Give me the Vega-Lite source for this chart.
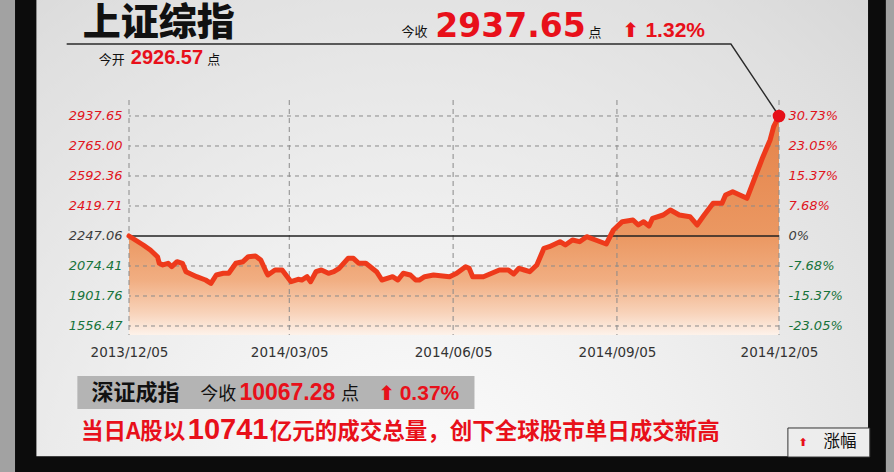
{
  "$schema": "https://vega.github.io/schema/vega-lite/v6.json",
  "width": 650,
  "height": 235,
  "autosize": {"type": "none"},
  "padding": {"left": 129, "top": 100, "right": 115, "bottom": 137},
  "background": "#0c0c0c",
  "config": {"view": {"stroke": null}},
  "resolve": {"axis": {"y": "independent", "x": "independent"}},
  "datasets": {
    "sh": [
      {"date": "2013-12-05", "value": 2247.06},
      {"date": "2013-12-13", "value": 2195.3},
      {"date": "2013-12-17", "value": 2166.5},
      {"date": "2013-12-21", "value": 2127.9},
      {"date": "2013-12-22", "value": 2090.0},
      {"date": "2013-12-24", "value": 2080.2},
      {"date": "2013-12-27", "value": 2090.0},
      {"date": "2013-12-29", "value": 2070.4},
      {"date": "2014-01-01", "value": 2099.2},
      {"date": "2014-01-04", "value": 2090.0},
      {"date": "2014-01-06", "value": 2041.6},
      {"date": "2014-01-12", "value": 2012.8},
      {"date": "2014-01-17", "value": 1993.8},
      {"date": "2014-01-20", "value": 1974.9},
      {"date": "2014-01-23", "value": 2022.6},
      {"date": "2014-01-27", "value": 2032.4},
      {"date": "2014-01-30", "value": 2032.4},
      {"date": "2014-02-03", "value": 2090.0},
      {"date": "2014-02-07", "value": 2099.2},
      {"date": "2014-02-10", "value": 2127.9},
      {"date": "2014-02-14", "value": 2132.0},
      {"date": "2014-02-17", "value": 2108.9},
      {"date": "2014-02-20", "value": 2041.6},
      {"date": "2014-02-21", "value": 2022.6},
      {"date": "2014-02-25", "value": 2051.4},
      {"date": "2014-03-01", "value": 2051.4},
      {"date": "2014-03-06", "value": 1984.1},
      {"date": "2014-03-10", "value": 1997.9},
      {"date": "2014-03-12", "value": 1993.8},
      {"date": "2014-03-15", "value": 2012.8},
      {"date": "2014-03-17", "value": 1984.1},
      {"date": "2014-03-20", "value": 2041.6},
      {"date": "2014-03-23", "value": 2051.4},
      {"date": "2014-03-27", "value": 2032.4},
      {"date": "2014-03-30", "value": 2041.6},
      {"date": "2014-04-02", "value": 2061.2},
      {"date": "2014-04-07", "value": 2118.7},
      {"date": "2014-04-10", "value": 2118.7},
      {"date": "2014-04-13", "value": 2090.0},
      {"date": "2014-04-17", "value": 2090.0},
      {"date": "2014-04-23", "value": 2041.6},
      {"date": "2014-04-26", "value": 1993.8},
      {"date": "2014-04-29", "value": 2003.6},
      {"date": "2014-05-02", "value": 2012.8},
      {"date": "2014-05-05", "value": 1993.8},
      {"date": "2014-05-08", "value": 2032.4},
      {"date": "2014-05-12", "value": 2022.6},
      {"date": "2014-05-15", "value": 1993.8},
      {"date": "2014-05-17", "value": 1993.8},
      {"date": "2014-05-20", "value": 2012.8},
      {"date": "2014-05-25", "value": 2022.6},
      {"date": "2014-06-03", "value": 2012.8},
      {"date": "2014-06-07", "value": 2032.4},
      {"date": "2014-06-12", "value": 2070.4},
      {"date": "2014-06-14", "value": 2061.2},
      {"date": "2014-06-16", "value": 2012.8},
      {"date": "2014-06-22", "value": 2012.8},
      {"date": "2014-07-01", "value": 2051.4},
      {"date": "2014-07-06", "value": 2051.4},
      {"date": "2014-07-09", "value": 2028.4},
      {"date": "2014-07-12", "value": 2061.2},
      {"date": "2014-07-15", "value": 2051.4},
      {"date": "2014-07-18", "value": 2041.6},
      {"date": "2014-07-22", "value": 2080.2},
      {"date": "2014-07-26", "value": 2176.3},
      {"date": "2014-07-29", "value": 2185.5},
      {"date": "2014-08-04", "value": 2214.3},
      {"date": "2014-08-07", "value": 2195.3},
      {"date": "2014-08-11", "value": 2224.0},
      {"date": "2014-08-15", "value": 2214.3},
      {"date": "2014-08-19", "value": 2243.0},
      {"date": "2014-08-24", "value": 2224.0},
      {"date": "2014-08-30", "value": 2201.0},
      {"date": "2014-09-03", "value": 2281.6},
      {"date": "2014-09-08", "value": 2329.4},
      {"date": "2014-09-14", "value": 2339.1},
      {"date": "2014-09-17", "value": 2310.4},
      {"date": "2014-09-20", "value": 2329.4},
      {"date": "2014-09-23", "value": 2304.6},
      {"date": "2014-09-25", "value": 2348.9},
      {"date": "2014-10-01", "value": 2367.9},
      {"date": "2014-10-05", "value": 2396.7},
      {"date": "2014-10-10", "value": 2367.9},
      {"date": "2014-10-16", "value": 2358.1},
      {"date": "2014-10-20", "value": 2310.4},
      {"date": "2014-10-24", "value": 2367.9},
      {"date": "2014-10-29", "value": 2435.2},
      {"date": "2014-11-03", "value": 2435.2},
      {"date": "2014-11-05", "value": 2483.0},
      {"date": "2014-11-09", "value": 2502.0},
      {"date": "2014-11-17", "value": 2464.0},
      {"date": "2014-11-26", "value": 2703.4},
      {"date": "2014-11-30", "value": 2799.5},
      {"date": "2014-12-02", "value": 2876.1},
      {"date": "2014-12-05", "value": 2937.65}
    ],
    "dot": [{"date": "2014-12-05", "value": 2937.65}],
    "conn": [
      {"date": "2013-10-31", "value": 3352.0},
      {"date": "2014-11-08", "value": 3352.0},
      {"date": "2014-12-05", "value": 2937.65}
    ],
    "hgrid": [
      {"value": 1729.12, "kind": "dash"},
      {"value": 1901.76, "kind": "dash"},
      {"value": 2074.41, "kind": "dash"},
      {"value": 2247.06, "kind": "base"},
      {"value": 2419.71, "kind": "dash"},
      {"value": 2592.36, "kind": "dash"},
      {"value": 2765.00, "kind": "dash"},
      {"value": 2937.65, "kind": "dash"}
    ],
    "vgrid": [
      {"date": "2013-12-05"},
      {"date": "2014-03-05"},
      {"date": "2014-06-05"},
      {"date": "2014-09-05"},
      {"date": "2014-12-05"}
    ],
    "frame": [
      {"date": "2013-09-01", "date2": "2013-10-02", "value": 3800, "value2": 700, "part": "side"},
      {"date": "2015-02-03", "date2": "2015-03-01", "value": 3800, "value2": 700, "part": "side"},
      {"date": "2013-10-14", "date2": "2015-01-24", "value": 3700, "value2": 980.0, "part": "panel"},
      {"date": "2013-11-06", "date2": "2014-06-17", "value": 1441.4, "value2": 1251.4, "part": "box"},
      {"date": "2014-12-10", "date2": "2015-01-25", "value": 1142.1, "value2": 975, "part": "legend"}
    ],
    "txt": [
      {"date": "2013-11-09", "value": 3403.8, "label": "上证综指", "style": "title"},
      {"date": "2013-11-18", "value": 3236.9, "label": "今开", "style": "s13"},
      {"date": "2013-12-06", "value": 3236.9, "label": "2926.57", "style": "r20"},
      {"date": "2014-01-18", "value": 3236.9, "label": "点", "style": "s13"},
      {"date": "2014-05-07", "value": 3398.1, "label": "今收", "style": "s13"},
      {"date": "2014-05-26", "value": 3392.3, "label": "2937.65", "style": "r33"},
      {"date": "2014-08-20", "value": 3392.3, "label": "点", "style": "s13"},
      {"date": "2014-09-08", "value": 3392.3, "label": "⬆", "style": "arrow"},
      {"date": "2014-09-21", "value": 3392.3, "label": "1.32%", "style": "r21"},
      {"date": "2013-11-14", "value": 1303.3, "label": "深证成指", "style": "b22"},
      {"date": "2014-01-14", "value": 1303.3, "label": "今收", "style": "s18"},
      {"date": "2014-02-05", "value": 1303.3, "label": "10067.28", "style": "r23"},
      {"date": "2014-04-03", "value": 1303.3, "label": "点", "style": "s18"},
      {"date": "2014-04-24", "value": 1303.3, "label": "⬆", "style": "arrow"},
      {"date": "2014-05-06", "value": 1303.3, "label": "0.37%", "style": "r21"},
      {"date": "2013-11-08", "value": 1078.8, "label": "当日A股以", "style": "cn"},
      {"date": "2014-01-07", "value": 1078.8, "label": "10741", "style": "r29"},
      {"date": "2014-02-22", "value": 1078.8, "label": "亿元的成交总量，创下全球股市单日成交新高", "style": "cn"},
      {"date": "2014-12-16", "value": 1038.5, "label": "⬆", "style": "arrowsm"},
      {"date": "2014-12-30", "value": 1032.7, "label": "涨幅", "style": "s16"}
    ]
  },
  "layer": [
    {
      "data": {"name": "frame"},
      "transform": [{"filter": "datum.part == 'side'"}],
      "mark": {"type": "rect", "color": "#a2a2a2"},
      "encoding": {
        "x": {"field": "date", "type": "temporal", "scale": {"type": "utc", "domain": [{"year": 2013, "month": 12, "date": 5, "utc": true}, {"year": 2014, "month": 12, "date": 5, "utc": true}]}, "axis": null},
        "x2": {"field": "date2"},
        "y": {"field": "value", "type": "quantitative", "scale": {"domain": [1677.3, 3029.7], "nice": false, "zero": false}, "axis": null},
        "y2": {"field": "value2"}
      }
    },
    {
      "data": {"name": "frame"},
      "transform": [{"filter": "datum.part == 'panel'"}],
      "mark": {"type": "rect", "color": {"gradient": "radial", "x1": 0.45, "y1": 0.85, "r1": 0, "x2": 0.45, "y2": 0.85, "r2": 1.0, "stops": [{"offset": 0, "color": "#fdfdfd"}, {"offset": 0.35, "color": "#efefef"}, {"offset": 0.7, "color": "#dfdfdf"}, {"offset": 0.9, "color": "#d3d3d3"}, {"offset": 1, "color": "#c6c6c6"}]}},
      "encoding": {
        "x": {"field": "date", "type": "temporal", "scale": {"type": "utc", "domain": [{"year": 2013, "month": 12, "date": 5, "utc": true}, {"year": 2014, "month": 12, "date": 5, "utc": true}]}, "axis": null},
        "x2": {"field": "date2"},
        "y": {"field": "value", "type": "quantitative", "scale": {"domain": [1677.3, 3029.7], "nice": false, "zero": false}, "axis": null},
        "y2": {"field": "value2"}
      }
    },
    {
      "data": {"name": "sh"},
      "mark": {"type": "area", "color": {"gradient": "linear", "x1": 0, "y1": 0, "x2": 0, "y2": 1, "stops": [{"offset": 0, "color": "#e4834a"}, {"offset": 0.55, "color": "#eb9862"}, {"offset": 0.75, "color": "#f1ae82"}, {"offset": 0.9, "color": "#f8d3ba"}, {"offset": 1, "color": "#fdf2ea"}]}},
      "encoding": {
        "x": {"field": "date", "type": "temporal", "scale": {"type": "utc", "domain": [{"year": 2013, "month": 12, "date": 5, "utc": true}, {"year": 2014, "month": 12, "date": 5, "utc": true}]}, "axis": null},
        "y": {"field": "value", "type": "quantitative", "scale": {"domain": [1677.3, 3029.7], "nice": false, "zero": false}, "axis": null},
        "y2": {"datum": 1677.3}
      }
    },
    {
      "data": {"name": "hgrid"},
      "transform": [{"filter": "datum.kind == 'dash'"}],
      "mark": {"type": "rule", "color": "#8a8a8a", "strokeWidth": 1, "strokeDash": [4, 4]},
      "encoding": {
        "y": {"field": "value", "type": "quantitative", "scale": {"domain": [1677.3, 3029.7], "nice": false, "zero": false}, "axis": null}
      }
    },
    {
      "data": {"name": "vgrid"},
      "mark": {"type": "rule", "color": "#8a8a8a", "strokeWidth": 1, "strokeDash": [5, 4]},
      "encoding": {
        "x": {"field": "date", "type": "temporal", "scale": {"type": "utc", "domain": [{"year": 2013, "month": 12, "date": 5, "utc": true}, {"year": 2014, "month": 12, "date": 5, "utc": true}]}, "axis": null}
      }
    },
    {
      "data": {"name": "hgrid"},
      "transform": [{"filter": "datum.kind == 'base'"}],
      "mark": {"type": "rule", "color": "#222222", "strokeWidth": 1.3},
      "encoding": {
        "y": {"field": "value", "type": "quantitative", "scale": {"domain": [1677.3, 3029.7], "nice": false, "zero": false}, "axis": null}
      }
    },
    {
      "data": {"name": "sh"},
      "mark": {"type": "line", "color": "#ee3a1b", "strokeWidth": 5, "strokeCap": "round", "strokeJoin": "round"},
      "encoding": {
        "x": {"field": "date", "type": "temporal", "scale": {"type": "utc", "domain": [{"year": 2013, "month": 12, "date": 5, "utc": true}, {"year": 2014, "month": 12, "date": 5, "utc": true}]},
          "axis": {"orient": "bottom", "values": [{"year": 2013, "month": 12, "date": 5, "utc": true}, {"year": 2014, "month": 3, "date": 5, "utc": true}, {"year": 2014, "month": 6, "date": 5, "utc": true}, {"year": 2014, "month": 9, "date": 5, "utc": true}, {"year": 2014, "month": 12, "date": 5, "utc": true}],
            "format": "%Y/%m/%d", "labelFont": "DejaVu Sans", "labelFontSize": 13.5, "labelColor": "#333333", "labelPadding": 10, "labelOverlap": false, "labelFlush": false, "labelBound": false, "ticks": false, "domain": false, "grid": false, "title": null, "zindex": 1}},
        "y": {"field": "value", "type": "quantitative", "scale": {"domain": [1677.3, 3029.7], "nice": false, "zero": false},
          "axis": {"orient": "left", "values": [1729.12, 1901.76, 2074.41, 2247.06, 2419.71, 2592.36, 2765.00, 2937.65],
            "labelExpr": "datum.value < 1800 ? '1556.47' : format(datum.value, '.2f')",
            "labelFont": "DejaVu Sans", "labelFontStyle": "italic", "labelFontSize": 13, "labelPadding": 7, "labelFlush": false,
            "labelColor": {"condition": [{"test": "datum.value > 2300", "value": "#e0141c"}, {"test": "datum.value > 2200", "value": "#3c3c3c"}], "value": "#17733a"},
            "ticks": false, "domain": false, "grid": false, "title": null, "zindex": 1}}
      }
    },
    {
      "data": {"name": "conn"},
      "mark": {"type": "line", "color": "#2b2b2b", "strokeWidth": 1.4},
      "encoding": {
        "x": {"field": "date", "type": "temporal", "scale": {"type": "utc", "domain": [{"year": 2013, "month": 12, "date": 5, "utc": true}, {"year": 2014, "month": 12, "date": 5, "utc": true}]}, "axis": null},
        "y": {"field": "value", "type": "quantitative", "scale": {"domain": [1677.3, 3029.7], "nice": false, "zero": false}, "axis": null}
      }
    },
    {
      "data": {"name": "dot"},
      "mark": {"type": "circle", "color": "#e60f18", "opacity": 1, "size": 160},
      "encoding": {
        "x": {"field": "date", "type": "temporal", "scale": {"type": "utc", "domain": [{"year": 2013, "month": 12, "date": 5, "utc": true}, {"year": 2014, "month": 12, "date": 5, "utc": true}]}, "axis": null},
        "y": {"field": "value", "type": "quantitative", "scale": {"domain": [1677.3, 3029.7], "nice": false, "zero": false},
          "axis": {"orient": "right", "values": [1729.12, 1901.76, 2074.41, 2247.06, 2419.71, 2592.36, 2765.00, 2937.65],
            "labelExpr": "abs(datum.value - 2247.06) < 0.5 ? '0%' : (datum.value < 2247.06 ? '-' : '') + format(abs(datum.value - 2247.06) / 2247.06 * 100, '.2f') + '%'",
            "labelFont": "DejaVu Sans", "labelFontStyle": "italic", "labelFontSize": 13, "labelPadding": 9, "labelFlush": false,
            "labelColor": {"condition": [{"test": "datum.value > 2300", "value": "#e0141c"}, {"test": "datum.value > 2200", "value": "#3c3c3c"}], "value": "#17733a"},
            "ticks": false, "domain": false, "grid": false, "title": null, "zindex": 1}}
      }
    },
    {
      "data": {"name": "frame"},
      "transform": [{"filter": "datum.part == 'box'"}],
      "mark": {"type": "rect", "color": "#b4b4b4"},
      "encoding": {
        "x": {"field": "date", "type": "temporal", "scale": {"type": "utc", "domain": [{"year": 2013, "month": 12, "date": 5, "utc": true}, {"year": 2014, "month": 12, "date": 5, "utc": true}]}, "axis": null},
        "x2": {"field": "date2"},
        "y": {"field": "value", "type": "quantitative", "scale": {"domain": [1677.3, 3029.7], "nice": false, "zero": false}, "axis": null},
        "y2": {"field": "value2"}
      }
    },
    {
      "data": {"name": "frame"},
      "transform": [{"filter": "datum.part == 'legend'"}],
      "mark": {"type": "rect", "fill": "#ededed", "stroke": "#333333", "strokeWidth": 1},
      "encoding": {
        "x": {"field": "date", "type": "temporal", "scale": {"type": "utc", "domain": [{"year": 2013, "month": 12, "date": 5, "utc": true}, {"year": 2014, "month": 12, "date": 5, "utc": true}]}, "axis": null},
        "x2": {"field": "date2"},
        "y": {"field": "value", "type": "quantitative", "scale": {"domain": [1677.3, 3029.7], "nice": false, "zero": false}, "axis": null},
        "y2": {"field": "value2"}
      }
    },
    {
      "data": {"name": "txt"},
      "transform": [{"filter": "datum.style == 'title'"}],
      "mark": {"type": "text", "align": "left", "baseline": "alphabetic", "font": "Noto Sans CJK SC", "fontSize": 38, "fontWeight": 900, "color": "#111111"},
      "encoding": {
        "x": {"field": "date", "type": "temporal", "scale": {"type": "utc", "domain": [{"year": 2013, "month": 12, "date": 5, "utc": true}, {"year": 2014, "month": 12, "date": 5, "utc": true}]}, "axis": null},
        "y": {"field": "value", "type": "quantitative", "scale": {"domain": [1677.3, 3029.7], "nice": false, "zero": false}, "axis": null},
        "text": {"field": "label"}
      }
    },
    {
      "data": {"name": "txt"},
      "transform": [{"filter": "datum.style == 's13'"}],
      "mark": {"type": "text", "align": "left", "baseline": "alphabetic", "font": "Noto Sans CJK SC", "fontSize": 13, "color": "#111111"},
      "encoding": {
        "x": {"field": "date", "type": "temporal", "scale": {"type": "utc", "domain": [{"year": 2013, "month": 12, "date": 5, "utc": true}, {"year": 2014, "month": 12, "date": 5, "utc": true}]}, "axis": null},
        "y": {"field": "value", "type": "quantitative", "scale": {"domain": [1677.3, 3029.7], "nice": false, "zero": false}, "axis": null},
        "text": {"field": "label"}
      }
    },
    {
      "data": {"name": "txt"},
      "transform": [{"filter": "datum.style == 'r20'"}],
      "mark": {"type": "text", "align": "left", "baseline": "alphabetic", "font": "Liberation Sans", "fontSize": 20, "fontWeight": "bold", "color": "#e8101a"},
      "encoding": {
        "x": {"field": "date", "type": "temporal", "scale": {"type": "utc", "domain": [{"year": 2013, "month": 12, "date": 5, "utc": true}, {"year": 2014, "month": 12, "date": 5, "utc": true}]}, "axis": null},
        "y": {"field": "value", "type": "quantitative", "scale": {"domain": [1677.3, 3029.7], "nice": false, "zero": false}, "axis": null},
        "text": {"field": "label"}
      }
    },
    {
      "data": {"name": "txt"},
      "transform": [{"filter": "datum.style == 'r33'"}],
      "mark": {"type": "text", "align": "left", "baseline": "alphabetic", "font": "DejaVu Sans", "fontSize": 33, "fontWeight": "bold", "color": "#e8101a"},
      "encoding": {
        "x": {"field": "date", "type": "temporal", "scale": {"type": "utc", "domain": [{"year": 2013, "month": 12, "date": 5, "utc": true}, {"year": 2014, "month": 12, "date": 5, "utc": true}]}, "axis": null},
        "y": {"field": "value", "type": "quantitative", "scale": {"domain": [1677.3, 3029.7], "nice": false, "zero": false}, "axis": null},
        "text": {"field": "label"}
      }
    },
    {
      "data": {"name": "txt"},
      "transform": [{"filter": "datum.style == 'r21'"}],
      "mark": {"type": "text", "align": "left", "baseline": "alphabetic", "font": "Liberation Sans", "fontSize": 21, "fontWeight": "bold", "color": "#e8101a"},
      "encoding": {
        "x": {"field": "date", "type": "temporal", "scale": {"type": "utc", "domain": [{"year": 2013, "month": 12, "date": 5, "utc": true}, {"year": 2014, "month": 12, "date": 5, "utc": true}]}, "axis": null},
        "y": {"field": "value", "type": "quantitative", "scale": {"domain": [1677.3, 3029.7], "nice": false, "zero": false}, "axis": null},
        "text": {"field": "label"}
      }
    },
    {
      "data": {"name": "txt"},
      "transform": [{"filter": "datum.style == 'arrow'"}],
      "mark": {"type": "text", "align": "left", "baseline": "alphabetic", "font": "DejaVu Sans", "fontSize": 20, "fontWeight": "bold", "color": "#e8101a"},
      "encoding": {
        "x": {"field": "date", "type": "temporal", "scale": {"type": "utc", "domain": [{"year": 2013, "month": 12, "date": 5, "utc": true}, {"year": 2014, "month": 12, "date": 5, "utc": true}]}, "axis": null},
        "y": {"field": "value", "type": "quantitative", "scale": {"domain": [1677.3, 3029.7], "nice": false, "zero": false}, "axis": null},
        "text": {"field": "label"}
      }
    },
    {
      "data": {"name": "txt"},
      "transform": [{"filter": "datum.style == 'arrowsm'"}],
      "mark": {"type": "text", "align": "left", "baseline": "alphabetic", "font": "DejaVu Sans", "fontSize": 11, "fontWeight": "bold", "color": "#e8101a"},
      "encoding": {
        "x": {"field": "date", "type": "temporal", "scale": {"type": "utc", "domain": [{"year": 2013, "month": 12, "date": 5, "utc": true}, {"year": 2014, "month": 12, "date": 5, "utc": true}]}, "axis": null},
        "y": {"field": "value", "type": "quantitative", "scale": {"domain": [1677.3, 3029.7], "nice": false, "zero": false}, "axis": null},
        "text": {"field": "label"}
      }
    },
    {
      "data": {"name": "txt"},
      "transform": [{"filter": "datum.style == 'b22'"}],
      "mark": {"type": "text", "align": "left", "baseline": "alphabetic", "font": "Noto Sans CJK SC", "fontSize": 22, "fontWeight": "bold", "color": "#111111"},
      "encoding": {
        "x": {"field": "date", "type": "temporal", "scale": {"type": "utc", "domain": [{"year": 2013, "month": 12, "date": 5, "utc": true}, {"year": 2014, "month": 12, "date": 5, "utc": true}]}, "axis": null},
        "y": {"field": "value", "type": "quantitative", "scale": {"domain": [1677.3, 3029.7], "nice": false, "zero": false}, "axis": null},
        "text": {"field": "label"}
      }
    },
    {
      "data": {"name": "txt"},
      "transform": [{"filter": "datum.style == 's18'"}],
      "mark": {"type": "text", "align": "left", "baseline": "alphabetic", "font": "Noto Sans CJK SC", "fontSize": 18, "color": "#111111"},
      "encoding": {
        "x": {"field": "date", "type": "temporal", "scale": {"type": "utc", "domain": [{"year": 2013, "month": 12, "date": 5, "utc": true}, {"year": 2014, "month": 12, "date": 5, "utc": true}]}, "axis": null},
        "y": {"field": "value", "type": "quantitative", "scale": {"domain": [1677.3, 3029.7], "nice": false, "zero": false}, "axis": null},
        "text": {"field": "label"}
      }
    },
    {
      "data": {"name": "txt"},
      "transform": [{"filter": "datum.style == 'r23'"}],
      "mark": {"type": "text", "align": "left", "baseline": "alphabetic", "font": "Liberation Sans", "fontSize": 23, "fontWeight": "bold", "color": "#e8101a"},
      "encoding": {
        "x": {"field": "date", "type": "temporal", "scale": {"type": "utc", "domain": [{"year": 2013, "month": 12, "date": 5, "utc": true}, {"year": 2014, "month": 12, "date": 5, "utc": true}]}, "axis": null},
        "y": {"field": "value", "type": "quantitative", "scale": {"domain": [1677.3, 3029.7], "nice": false, "zero": false}, "axis": null},
        "text": {"field": "label"}
      }
    },
    {
      "data": {"name": "txt"},
      "transform": [{"filter": "datum.style == 'cn'"}],
      "mark": {"type": "text", "align": "left", "baseline": "alphabetic", "font": "Noto Sans CJK SC", "fontSize": 22.5, "fontWeight": "bold", "color": "#e8101a"},
      "encoding": {
        "x": {"field": "date", "type": "temporal", "scale": {"type": "utc", "domain": [{"year": 2013, "month": 12, "date": 5, "utc": true}, {"year": 2014, "month": 12, "date": 5, "utc": true}]}, "axis": null},
        "y": {"field": "value", "type": "quantitative", "scale": {"domain": [1677.3, 3029.7], "nice": false, "zero": false}, "axis": null},
        "text": {"field": "label"}
      }
    },
    {
      "data": {"name": "txt"},
      "transform": [{"filter": "datum.style == 'r29'"}],
      "mark": {"type": "text", "align": "left", "baseline": "alphabetic", "font": "Liberation Sans", "fontSize": 29, "fontWeight": "bold", "color": "#e8101a"},
      "encoding": {
        "x": {"field": "date", "type": "temporal", "scale": {"type": "utc", "domain": [{"year": 2013, "month": 12, "date": 5, "utc": true}, {"year": 2014, "month": 12, "date": 5, "utc": true}]}, "axis": null},
        "y": {"field": "value", "type": "quantitative", "scale": {"domain": [1677.3, 3029.7], "nice": false, "zero": false}, "axis": null},
        "text": {"field": "label"}
      }
    },
    {
      "data": {"name": "txt"},
      "transform": [{"filter": "datum.style == 's16'"}],
      "mark": {"type": "text", "align": "left", "baseline": "alphabetic", "font": "Noto Sans CJK SC", "fontSize": 16.5, "color": "#111111"},
      "encoding": {
        "x": {"field": "date", "type": "temporal", "scale": {"type": "utc", "domain": [{"year": 2013, "month": 12, "date": 5, "utc": true}, {"year": 2014, "month": 12, "date": 5, "utc": true}]}, "axis": null},
        "y": {"field": "value", "type": "quantitative", "scale": {"domain": [1677.3, 3029.7], "nice": false, "zero": false}, "axis": null},
        "text": {"field": "label"}
      }
    }
  ]
}
